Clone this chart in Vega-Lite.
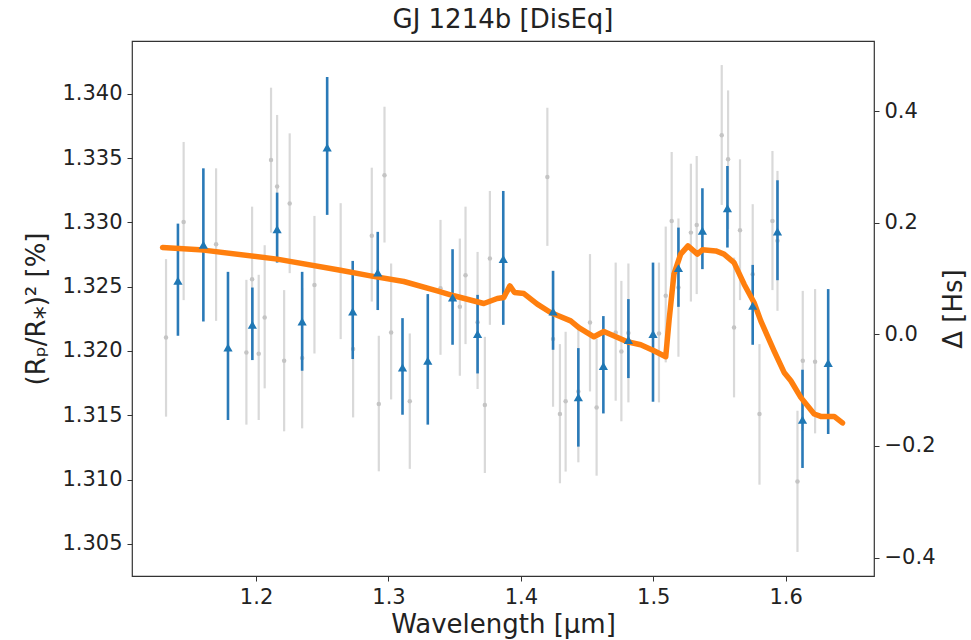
{
  "$schema": "https://vega.github.io/schema/vega-lite/v6.json",
  "autosize": {"type": "none"},
  "padding": {"left": 132, "top": 41, "right": 97, "bottom": 64},
  "width": 742,
  "height": 535,
  "background": "white",
  "title": {"text": "GJ 1214b [DisEq]", "fontSize": 26, "font": "DejaVu Sans", "fontWeight": "normal", "color": "#222", "offset": 8},
  "config": {
    "font": "DejaVu Sans",
    "view": {"stroke": "#333", "strokeWidth": 1.2},
    "axis": {"grid": false, "domain": false, "tickColor": "#333", "tickSize": 5, "labelFontSize": 21, "labelColor": "#222", "titleFontSize": 26, "titleFontWeight": "normal", "titleColor": "#222", "labelPadding": 5}
  },
  "datasets": {
    "blue": [
      {"wl": 1.1410, "val": 1.32545, "lo": 1.32118, "hi": 1.32990},
      {"wl": 1.1602, "val": 1.32825, "lo": 1.32229, "hi": 1.33420},
      {"wl": 1.1788, "val": 1.32027, "lo": 1.31463, "hi": 1.32615},
      {"wl": 1.1972, "val": 1.32203, "lo": 1.31929, "hi": 1.32493},
      {"wl": 1.2159, "val": 1.32947, "lo": 1.32687, "hi": 1.33231},
      {"wl": 1.2348, "val": 1.32229, "lo": 1.31846, "hi": 1.32615},
      {"wl": 1.2537, "val": 1.33581, "lo": 1.33058, "hi": 1.34130},
      {"wl": 1.2730, "val": 1.32307, "lo": 1.31937, "hi": 1.32700},
      {"wl": 1.2919, "val": 1.32610, "lo": 1.32318, "hi": 1.32926},
      {"wl": 1.3106, "val": 1.31872, "lo": 1.31504, "hi": 1.32255},
      {"wl": 1.3297, "val": 1.31924, "lo": 1.31427, "hi": 1.32442},
      {"wl": 1.3484, "val": 1.32415, "lo": 1.32048, "hi": 1.32791},
      {"wl": 1.3673, "val": 1.32131, "lo": 1.31825, "hi": 1.32436},
      {"wl": 1.3867, "val": 1.32714, "lo": 1.32203, "hi": 1.33244},
      {"wl": 1.4243, "val": 1.32307, "lo": 1.32009, "hi": 1.32623},
      {"wl": 1.4434, "val": 1.31639, "lo": 1.31256, "hi": 1.32022},
      {"wl": 1.4623, "val": 1.31883, "lo": 1.31514, "hi": 1.32271},
      {"wl": 1.4812, "val": 1.32085, "lo": 1.31789, "hi": 1.32403},
      {"wl": 1.4998, "val": 1.32131, "lo": 1.31605, "hi": 1.32687},
      {"wl": 1.5190, "val": 1.32644, "lo": 1.32343, "hi": 1.32959},
      {"wl": 1.5371, "val": 1.32934, "lo": 1.32636, "hi": 1.33265},
      {"wl": 1.5560, "val": 1.33110, "lo": 1.32804, "hi": 1.33438},
      {"wl": 1.5751, "val": 1.32351, "lo": 1.32048, "hi": 1.32669},
      {"wl": 1.5938, "val": 1.32928, "lo": 1.32550, "hi": 1.33327},
      {"wl": 1.6127, "val": 1.31465, "lo": 1.31090, "hi": 1.31854},
      {"wl": 1.6321, "val": 1.31906, "lo": 1.31354, "hi": 1.32481}
    ],
    "gray": [
      {"wl": 1.1320, "val": 1.32105, "lo": 1.31489, "hi": 1.32714},
      {"wl": 1.1453, "val": 1.33003, "lo": 1.32395, "hi": 1.33625},
      {"wl": 1.1698, "val": 1.32830, "lo": 1.32234, "hi": 1.33420},
      {"wl": 1.1927, "val": 1.31988, "lo": 1.31427, "hi": 1.32553},
      {"wl": 1.1970, "val": 1.32558, "lo": 1.31994, "hi": 1.33122},
      {"wl": 1.2020, "val": 1.31978, "lo": 1.31463, "hi": 1.32592},
      {"wl": 1.2065, "val": 1.32260, "lo": 1.31709, "hi": 1.32822},
      {"wl": 1.2113, "val": 1.33485, "lo": 1.32920, "hi": 1.34047},
      {"wl": 1.2159, "val": 1.33278, "lo": 1.32726, "hi": 1.33835},
      {"wl": 1.2212, "val": 1.31924, "lo": 1.31375, "hi": 1.32473},
      {"wl": 1.2254, "val": 1.33146, "lo": 1.32605, "hi": 1.33692},
      {"wl": 1.2348, "val": 1.31945, "lo": 1.31398, "hi": 1.32490},
      {"wl": 1.2441, "val": 1.32512, "lo": 1.31980, "hi": 1.33050},
      {"wl": 1.2639, "val": 1.32623, "lo": 1.32092, "hi": 1.33149},
      {"wl": 1.2733, "val": 1.32015, "lo": 1.31483, "hi": 1.32550},
      {"wl": 1.2874, "val": 1.32895, "lo": 1.32384, "hi": 1.33425},
      {"wl": 1.2927, "val": 1.31587, "lo": 1.31064, "hi": 1.32118},
      {"wl": 1.2970, "val": 1.33366, "lo": 1.32843, "hi": 1.33899},
      {"wl": 1.3020, "val": 1.32144, "lo": 1.31623, "hi": 1.32680},
      {"wl": 1.3161, "val": 1.31608, "lo": 1.31083, "hi": 1.32136},
      {"wl": 1.3393, "val": 1.32488, "lo": 1.31970, "hi": 1.33019},
      {"wl": 1.3539, "val": 1.32343, "lo": 1.31807, "hi": 1.32874},
      {"wl": 1.3582, "val": 1.32589, "lo": 1.32053, "hi": 1.33122},
      {"wl": 1.3673, "val": 1.32224, "lo": 1.31704, "hi": 1.32770},
      {"wl": 1.3728, "val": 1.31580, "lo": 1.31051, "hi": 1.32110},
      {"wl": 1.3766, "val": 1.32718, "lo": 1.32203, "hi": 1.33244},
      {"wl": 1.4200, "val": 1.33353, "lo": 1.32817, "hi": 1.33891},
      {"wl": 1.4243, "val": 1.32092, "lo": 1.31566, "hi": 1.32620},
      {"wl": 1.4295, "val": 1.31510, "lo": 1.30971, "hi": 1.32053},
      {"wl": 1.4338, "val": 1.31608, "lo": 1.31062, "hi": 1.32149},
      {"wl": 1.4434, "val": 1.31685, "lo": 1.31134, "hi": 1.32209},
      {"wl": 1.4522, "val": 1.32221, "lo": 1.31685, "hi": 1.32753},
      {"wl": 1.4572, "val": 1.31561, "lo": 1.31030, "hi": 1.32095},
      {"wl": 1.4716, "val": 1.32144, "lo": 1.31613, "hi": 1.32687},
      {"wl": 1.4759, "val": 1.31996, "lo": 1.31453, "hi": 1.32545},
      {"wl": 1.4812, "val": 1.32140, "lo": 1.31600, "hi": 1.32680},
      {"wl": 1.5043, "val": 1.32136, "lo": 1.31600, "hi": 1.32687},
      {"wl": 1.5094, "val": 1.32429, "lo": 1.31911, "hi": 1.32967},
      {"wl": 1.5139, "val": 1.33011, "lo": 1.32488, "hi": 1.33547},
      {"wl": 1.5190, "val": 1.32493, "lo": 1.31955, "hi": 1.33030},
      {"wl": 1.5284, "val": 1.32920, "lo": 1.32384, "hi": 1.33456},
      {"wl": 1.5328, "val": 1.32980, "lo": 1.32442, "hi": 1.33516},
      {"wl": 1.5517, "val": 1.33677, "lo": 1.33135, "hi": 1.34223},
      {"wl": 1.5565, "val": 1.33490, "lo": 1.32947, "hi": 1.34026},
      {"wl": 1.5610, "val": 1.32182, "lo": 1.31639, "hi": 1.32726},
      {"wl": 1.5655, "val": 1.32939, "lo": 1.32395, "hi": 1.33490},
      {"wl": 1.5751, "val": 1.32597, "lo": 1.32050, "hi": 1.33141},
      {"wl": 1.5802, "val": 1.31510, "lo": 1.30960, "hi": 1.32053},
      {"wl": 1.5900, "val": 1.33011, "lo": 1.32473, "hi": 1.33555},
      {"wl": 1.5938, "val": 1.32856, "lo": 1.32312, "hi": 1.33400},
      {"wl": 1.6089, "val": 1.30984, "lo": 1.30437, "hi": 1.31535},
      {"wl": 1.6129, "val": 1.31924, "lo": 1.31380, "hi": 1.32467},
      {"wl": 1.6222, "val": 1.31916, "lo": 1.31359, "hi": 1.32481}
    ],
    "model": [
      {"wl": 1.1294, "val": 1.32804}, {"wl": 1.1604, "val": 1.32784}, {"wl": 1.2159, "val": 1.32714},
      {"wl": 1.2637, "val": 1.32628}, {"wl": 1.2864, "val": 1.32584}, {"wl": 1.3116, "val": 1.32540},
      {"wl": 1.3368, "val": 1.32467}, {"wl": 1.3494, "val": 1.32429}, {"wl": 1.3720, "val": 1.32369},
      {"wl": 1.3822, "val": 1.32408}, {"wl": 1.3871, "val": 1.32415}, {"wl": 1.3917, "val": 1.32506},
      {"wl": 1.3952, "val": 1.32454}, {"wl": 1.4023, "val": 1.32446}, {"wl": 1.4124, "val": 1.32364},
      {"wl": 1.4224, "val": 1.32299}, {"wl": 1.4376, "val": 1.32234}, {"wl": 1.4438, "val": 1.32182},
      {"wl": 1.4552, "val": 1.32110}, {"wl": 1.4627, "val": 1.32151}, {"wl": 1.4804, "val": 1.32071},
      {"wl": 1.4905, "val": 1.32048}, {"wl": 1.5005, "val": 1.32001}, {"wl": 1.5094, "val": 1.31955},
      {"wl": 1.5119, "val": 1.32234}, {"wl": 1.5156, "val": 1.32597}, {"wl": 1.5207, "val": 1.32753},
      {"wl": 1.5262, "val": 1.32817}, {"wl": 1.5333, "val": 1.32753}, {"wl": 1.5371, "val": 1.32786},
      {"wl": 1.5472, "val": 1.32778}, {"wl": 1.5534, "val": 1.32753}, {"wl": 1.5610, "val": 1.32687},
      {"wl": 1.5686, "val": 1.32519}, {"wl": 1.5761, "val": 1.32377}, {"wl": 1.5812, "val": 1.32234},
      {"wl": 1.5912, "val": 1.32001}, {"wl": 1.5988, "val": 1.31833}, {"wl": 1.6039, "val": 1.31768},
      {"wl": 1.6114, "val": 1.31639}, {"wl": 1.6215, "val": 1.31510}, {"wl": 1.6265, "val": 1.31491},
      {"wl": 1.6366, "val": 1.31491}, {"wl": 1.6429, "val": 1.31440}
    ],
    "right": [{"d": -0.4}, {"d": 0.4}]
  },
  "layer": [
    {
      "layer": [
        {
          "data": {"name": "gray"},
          "mark": {"type": "rule", "color": "#d9d9d9", "strokeWidth": 2.2},
          "encoding": {
            "x": {"field": "wl", "type": "quantitative", "scale": {"domain": [1.1063, 1.6667], "nice": false, "zero": false},
                  "axis": {"values": [1.2, 1.3, 1.4, 1.5, 1.6], "format": ".1f", "title": "Wavelength [μm]", "titlePadding": 4}},
            "y": {"field": "lo", "type": "quantitative", "scale": {"domain": [1.3025, 1.3441], "nice": false, "zero": false},
                  "axis": {"values": [1.305, 1.31, 1.315, 1.32, 1.325, 1.33, 1.335, 1.34], "format": ".3f", "title": "(Rₚ/R⁎)² [%]", "titlePadding": 12}},
            "y2": {"field": "hi"}
          }
        },
        {
          "data": {"name": "gray"},
          "mark": {"type": "point", "shape": "circle", "filled": true, "color": "#c4c4c4", "size": 20, "opacity": 1},
          "encoding": {
            "x": {"field": "wl", "type": "quantitative", "title": "Wavelength [μm]"},
            "y": {"field": "val", "type": "quantitative", "title": "(Rₚ/R⁎)² [%]"}
          }
        },
        {
          "data": {"name": "blue"},
          "mark": {"type": "rule", "color": "#2a7ab8", "strokeWidth": 2.6},
          "encoding": {
            "x": {"field": "wl", "type": "quantitative", "title": "Wavelength [μm]"},
            "y": {"field": "lo", "type": "quantitative", "title": "(Rₚ/R⁎)² [%]"},
            "y2": {"field": "hi"}
          }
        },
        {
          "data": {"name": "model"},
          "mark": {"type": "line", "color": "#ff7f0e", "strokeWidth": 5.5, "strokeJoin": "round", "strokeCap": "round"},
          "encoding": {
            "x": {"field": "wl", "type": "quantitative", "title": "Wavelength [μm]"},
            "y": {"field": "val", "type": "quantitative", "title": "(Rₚ/R⁎)² [%]"}
          }
        },
        {
          "data": {"name": "blue"},
          "mark": {"type": "point", "shape": "triangle-up", "filled": true, "color": "#1f77b4", "size": 85, "opacity": 1},
          "encoding": {
            "x": {"field": "wl", "type": "quantitative", "title": "Wavelength [μm]"},
            "y": {"field": "val", "type": "quantitative", "title": "(Rₚ/R⁎)² [%]"}
          }
        }
      ]
    },
    {
      "data": {"name": "right"},
      "mark": {"type": "point", "opacity": 0},
      "encoding": {
        "y": {"field": "d", "type": "quantitative", "scale": {"domain": [-0.4329, 0.5255], "nice": false, "zero": false},
              "axis": {"orient": "right", "values": [-0.4, -0.2, 0, 0.2, 0.4], "format": ".1f", "title": "Δ [Hs]", "titleAngle": 270, "titleBaseline": "top", "titlePadding": 6}}
      }
    }
  ],
  "resolve": {"scale": {"y": "independent"}}
}
